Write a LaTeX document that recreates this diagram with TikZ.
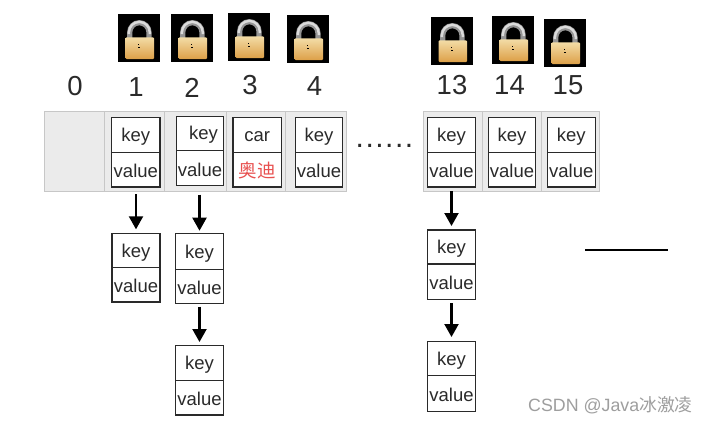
\documentclass[tikz,border=0pt]{standalone}
\usepackage{fontspec}
\setmainfont{Liberation Sans}
\newfontfamily\cjkfont{Noto Sans CJK SC}
\usetikzlibrary{arrows.meta}
\definecolor{inkc}{HTML}{2A2A2A}
\definecolor{redtxt}{HTML}{E8504F}
\definecolor{goldtop}{HTML}{F3DCA6}
\definecolor{goldbot}{HTML}{DDA048}
\tikzset{
  x=1pt,y=-1pt,
  bucketbox/.style={draw=black!22,fill=black!8,line width=1pt,inner sep=0pt,outer sep=0pt},
  cellbox/.style={draw=inkc,fill=white,line width=1.1pt,inner sep=0pt,outer sep=0pt,text=inkc,font=\fontsize{18.5}{18.5}\selectfont},
  idxlabel/.style={text=inkc,font=\fontsize{27.5}{27.5}\selectfont,inner sep=0pt},
  arrowline/.style={draw=black,line width=2.1pt,-{Triangle[length=13pt,width=14pt]}},
  padlock/.pic={
    \fill[black] (0,0) rectangle (42,48);
    \draw[line width=5.2pt,draw=black!42] (11.7,25) -- (11.7,18.4) arc[start angle=180,end angle=360,x radius=9.65,y radius=9.7] -- (31,25);
    \draw[line width=2.4pt,draw=black!14] (10.9,20) -- (10.9,18.4) arc[start angle=180,end angle=360,x radius=10.45,y radius=10.5] -- (31.8,20);
    \shade[top color=goldtop,bottom color=goldbot,rounded corners=1pt] (7.6,23.3) rectangle (36,45);
    \fill[black] (20.4,29.6) rectangle (21.2,30.4);
    \fill[black] (19.6,33.2) rectangle (22.4,33.8);
  }
}
% \kvcell{name}{x1}{x2}{y1}{ymid}{y2}{key}{value}
\newcommand{\kvcell}[8]{%
  \pgfmathsetmacro{\cw}{#3-#2}\pgfmathsetmacro{\cx}{(#2+#3)/2}%
  \pgfmathsetmacro{\ha}{#5-#4}\pgfmathsetmacro{\hb}{#6-#5}%
  \pgfmathsetmacro{\ya}{(#4+#5)/2}\pgfmathsetmacro{\yb}{(#5+#6)/2}%
  \node[cellbox,minimum width=\cw pt,minimum height=\ha pt] (#1k) at (\cx,\ya) {#7};
  \node[cellbox,minimum width=\cw pt,minimum height=\hb pt] (#1v) at (\cx,\yb) {#8};
  \draw[draw=inkc,line width=1.5pt] (#1k.south west) -- (#1k.south east);
}
\newcommand{\bucket}[3]{%
  \pgfmathsetmacro{\cw}{#3-#2}\pgfmathsetmacro{\cx}{(#2+#3)/2}%
  \node[bucketbox,minimum width=\cw pt,minimum height=80pt] (#1) at (\cx,151.7) {};
}
\newcommand{\kk}{\raisebox{-4pt}[9pt][4pt]{key}}
\newcommand{\vv}{\raisebox{-5.5pt}[9pt][4pt]{value}}
\begin{document}
\begin{tikzpicture}
\useasboundingbox (0,0) rectangle (707,423);
\fill[white] (0,0) rectangle (707,423);
\pic at (118,14) {padlock};
\pic at (171,14) {padlock};
\pic at (228,13) {padlock};
\pic at (287,15) {padlock};
\pic at (431,17) {padlock};
\pic at (492,16) {padlock};
\pic at (544,19) {padlock};
\node[idxlabel] (n0) at (75,86) {0};
\node[idxlabel] (n1) at (136,87) {1};
\node[idxlabel] (n2) at (192,88) {2};
\node[idxlabel] (n3) at (250,85.5) {3};
\node[idxlabel] (n4) at (314.5,86) {4};
\node[idxlabel] (n13) at (452,85) {13};
\node[idxlabel] (n14) at (509.5,85) {14};
\node[idxlabel] (n15) at (568,85) {15};
\bucket{b0}{44.7}{104.3}
\bucket{b1}{104.3}{164.7}
\bucket{b2}{164.7}{226.3}
\bucket{b3}{226.3}{285.7}
\bucket{b4}{285.7}{346}
\bucket{b13}{423.3}{482.7}
\bucket{b14}{482.7}{541.7}
\bucket{b15}{541.7}{599.3}
\kvcell{c1}{111.7}{160}{117.3}{152.7}{187}{\kk}{\vv}
\kvcell{c2}{176.7}{223.3}{116.3}{150.3}{185.7}{\hspace*{7pt}\kk}{\vv}
\kvcell{c3}{233}{281.3}{117.3}{152.7}{187}{\raisebox{-4pt}[9pt][4pt]{car}}{\raisebox{-5.5pt}[9pt][4pt]{\color{redtxt}\cjkfont 奥迪}}
\kvcell{c4}{295.7}{342.3}{117.3}{152.7}{187}{\kk}{\vv}
\kvcell{c13}{427.3}{475.7}{117.3}{152.7}{187}{\kk}{\vv}
\kvcell{c14}{488.7}{535.3}{117.3}{152.7}{187}{\kk}{\vv}
\kvcell{c15}{547.3}{595.3}{117.3}{152.7}{187}{\kk}{\vv}
\kvcell{a}{112}{160}{233.7}{267.7}{302}{\kk}{\vv}
\kvcell{d}{175.7}{223.3}{233.7}{269.3}{303.3}{\kk}{\vv}
\kvcell{e}{175.7}{223.3}{345.3}{380.3}{415}{\kk}{\vv}
\kvcell{f}{427.3}{475.7}{230}{264}{299.7}{\kk}{\vv}
\kvcell{g}{427.3}{475.7}{341.7}{375.7}{411.3}{\kk}{\vv}
\node[anchor=base west,inner sep=0pt,text=inkc,font=\fontsize{30}{30}\selectfont\addfontfeatures{LetterSpace=5}] (gap) at (355.5,147.8) {......};
\draw[arrowline,shorten <=7pt,shorten >=4.4pt] (ak.north |- c1v.south) -- (ak.north);
\draw[arrowline,shorten <=9pt,shorten >=3pt] (dk.north |- c2v.south) -- (dk.north);
\draw[arrowline,shorten <=3.4pt,shorten >=3.3pt] (dv.south) -- (ek.north);
\draw[arrowline,shorten <=4pt,shorten >=4pt] (c13v.south) -- (fk.north);
\draw[arrowline,shorten <=3.3pt,shorten >=4.7pt] (fv.south) -- (gk.north);
\coordinate (ls) at (585.3,250);
\coordinate (le) at (667.7,250);
\draw[draw=black,line width=1.9pt] (ls) -- (le);
\node[anchor=base west,inner sep=0pt,text=black!38,font=\fontsize{17.8}{18}\selectfont] (wm) at (528,411) {CSDN @Java{\cjkfont 冰激凌}};
\end{tikzpicture}
\end{document}
